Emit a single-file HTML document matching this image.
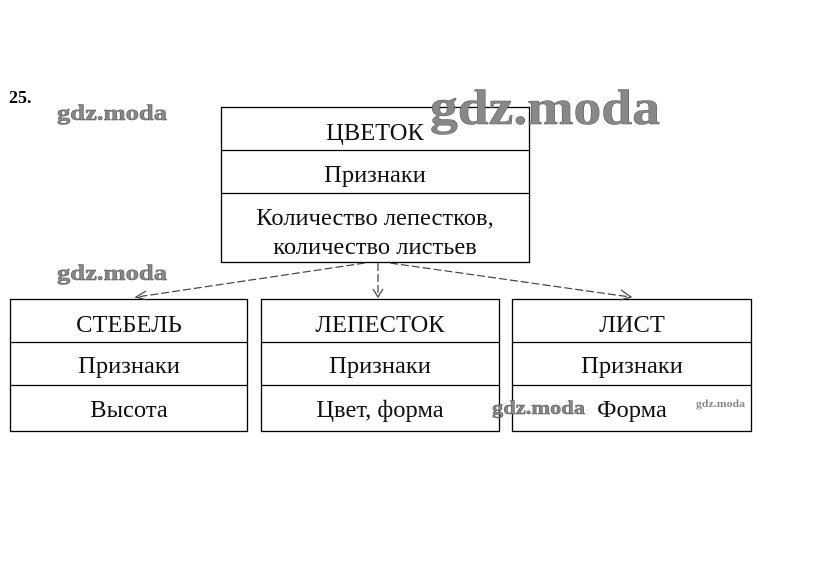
<!DOCTYPE html>
<html><head><meta charset="utf-8"><style>
html,body{margin:0;padding:0;background:#fff;}
body{width:823px;height:569px;overflow:hidden;position:relative;}
svg{position:absolute;left:0;top:0;}
</style></head><body>
<svg width="823" height="569" xmlns="http://www.w3.org/2000/svg" font-family="Liberation Serif, serif">
<rect width="823" height="569" fill="#fff"/>
<text x="9" y="103" font-size="18" font-weight="bold">25.</text>
<g fill="none" stroke="#000" stroke-width="1.3">
<rect x="221.5" y="107.5" width="308" height="155"/>
<line x1="221" y1="150.5" x2="530" y2="150.5"/>
<line x1="221" y1="193.5" x2="530" y2="193.5"/>
<rect x="10.5" y="299.5" width="237" height="132"/>
<line x1="10" y1="342.5" x2="248" y2="342.5"/>
<line x1="10" y1="385.5" x2="248" y2="385.5"/>
<rect x="261.5" y="299.5" width="238" height="132"/>
<line x1="261" y1="342.5" x2="500" y2="342.5"/>
<line x1="261" y1="385.5" x2="500" y2="385.5"/>
<rect x="512.5" y="299.5" width="239" height="132"/>
<line x1="512" y1="342.5" x2="752" y2="342.5"/>
<line x1="512" y1="385.5" x2="752" y2="385.5"/>
</g>
<g fill="none" stroke="#444" stroke-width="1.2" stroke-dasharray="8,3">
<line x1="365" y1="263" x2="137" y2="297"/>
<line x1="378" y1="263" x2="378" y2="296"/>
<line x1="390" y1="263" x2="630" y2="297"/>
</g>
<g fill="none" stroke="#444" stroke-width="1.2">
<polyline points="146,291 136,297 147,300"/>
<polyline points="373,289 378,297 383,289"/>
<polyline points="621,290 631,297 620,300"/>
</g>
<g font-size="24.5" text-anchor="middle" fill="#111">
<text x="375" y="140">ЦВЕТОК</text>
<text x="375" y="182">Признаки</text>
<text x="375" y="225">Количество лепестков,</text>
<text x="375" y="254">количество листьев</text>
<text x="129" y="332">СТЕБЕЛЬ</text>
<text x="129" y="373">Признаки</text>
<text x="129" y="417">Высота</text>
<text x="380" y="332">ЛЕПЕСТОК</text>
<text x="380" y="373">Признаки</text>
<text x="380" y="417">Цвет, форма</text>
<text x="632" y="332">ЛИСТ</text>
<text x="632" y="373">Признаки</text>
<text x="632" y="417">Форма</text>
</g>
<g font-weight="bold" fill="#888" stroke="#555" stroke-width="0.5">
<text x="57" y="120" font-size="22" textLength="110" lengthAdjust="spacingAndGlyphs">gdz.moda</text>
<text x="57" y="280" font-size="22" textLength="110" lengthAdjust="spacingAndGlyphs">gdz.moda</text>
<text x="430" y="124" font-size="50" textLength="230" lengthAdjust="spacingAndGlyphs">gdz.moda</text>
<text x="492" y="414" font-size="19" textLength="93" lengthAdjust="spacingAndGlyphs">gdz.moda</text>
<text x="696" y="407" font-size="11" stroke="none" textLength="49" lengthAdjust="spacingAndGlyphs">gdz.moda</text>
</g>
</svg>
</body></html>
